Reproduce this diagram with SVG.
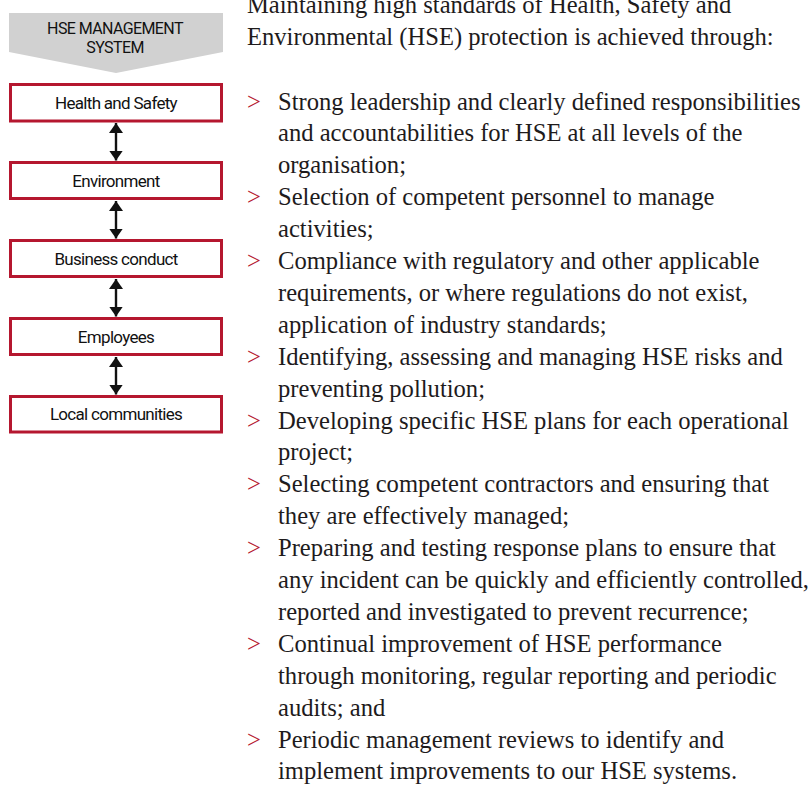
<svg xmlns="http://www.w3.org/2000/svg" width="812" height="785" viewBox="0 0 812 785">
<style>
.box{fill:#fff;stroke:#b5172f;stroke-width:3}
.bt{font-family:Roboto,"Liberation Sans",Arial,sans-serif;font-weight:400;font-size:17px;letter-spacing:-0.7px;fill:#111;text-anchor:middle}
.hd{font-family:Roboto,"Liberation Sans",Arial,sans-serif;font-weight:400;font-size:16px;letter-spacing:-0.6px;fill:#111;text-anchor:middle}
.con{stroke:#111;stroke-width:2.4;fill:none;marker-start:url(#ah);marker-end:url(#ah)}
.tx{font-family:"Liberation Serif","Times New Roman",serif;font-size:24.6px;fill:#1e1b1c}
.bl{fill:#b5172f}
</style>
<defs>
<marker id="ah" viewBox="0 0 10 14" refX="10" refY="7" markerWidth="10" markerHeight="14" orient="auto-start-reverse" markerUnits="userSpaceOnUse">
<path d="M0,0 L10,7 L0,14 z" fill="#111"/>
</marker>
</defs>
<rect width="812" height="785" fill="#fff"/>
<g id="header">
<polygon points="9,13 223,13 223,52 116,73 9,52" fill="#d1d1d1"/>
<text class="hd" x="115" y="33.5">HSE MANAGEMENT</text>
<text class="hd" x="115" y="53">SYSTEM</text>
</g>
<g id="connectors">
<line class="con" x1="116" y1="123" x2="116" y2="160.5"/>
<line class="con" x1="116" y1="201" x2="116" y2="238.5"/>
<line class="con" x1="116" y1="279" x2="116" y2="316.5"/>
<line class="con" x1="116" y1="357" x2="116" y2="394.5"/>
</g>
<g id="node-health-safety">
<rect class="box" x="10.5" y="84.5" width="211" height="36.5"/>
<text class="bt" x="116" y="108.5">Health and Safety</text>
</g>
<g id="node-environment">
<rect class="box" x="10.5" y="162.5" width="211" height="36"/>
<text class="bt" x="116" y="186.5">Environment</text>
</g>
<g id="node-business-conduct">
<rect class="box" x="10.5" y="240.5" width="211" height="36"/>
<text class="bt" x="116" y="264.5">Business conduct</text>
</g>
<g id="node-employees">
<rect class="box" x="10.5" y="318.5" width="211" height="36"/>
<text class="bt" x="116" y="342.5">Employees</text>
</g>
<g id="node-local-communities">
<rect class="box" x="10.5" y="396.5" width="211" height="35.5"/>
<text class="bt" x="116" y="420">Local communities</text>
</g>
<g id="text">
<text class="tx" x="247" y="13">Maintaining high standards of  Health, Safety and</text>
<text class="tx" x="247" y="44.5">Environmental (HSE) protection is achieved through:</text>
<g class="bl">
<text class="tx bl" x="247" y="109.5">&gt;</text>
<text class="tx bl" x="247" y="205.2">&gt;</text>
<text class="tx bl" x="247" y="269">&gt;</text>
<text class="tx bl" x="247" y="364.7">&gt;</text>
<text class="tx bl" x="247" y="428.5">&gt;</text>
<text class="tx bl" x="247" y="492.3">&gt;</text>
<text class="tx bl" x="247" y="556.1">&gt;</text>
<text class="tx bl" x="247" y="651.8">&gt;</text>
<text class="tx bl" x="247" y="747.5">&gt;</text>
</g>
<text class="tx" x="278" y="109.5">Strong leadership and clearly defined responsibilities</text>
<text class="tx" x="278" y="141.4">and accountabilities for HSE at all levels of  the</text>
<text class="tx" x="278" y="173.3">organisation;</text>
<text class="tx" x="278" y="205.2">Selection of  competent personnel to manage</text>
<text class="tx" x="278" y="237.1">activities;</text>
<text class="tx" x="278" y="269">Compliance with regulatory and other applicable</text>
<text class="tx" x="278" y="300.9">requirements, or where regulations do not exist,</text>
<text class="tx" x="278" y="332.8">application of industry standards;</text>
<text class="tx" x="278" y="364.7">Identifying, assessing and managing HSE risks and</text>
<text class="tx" x="278" y="396.6">preventing pollution;</text>
<text class="tx" x="278" y="428.5">Developing specific HSE plans for each operational</text>
<text class="tx" x="278" y="460.4">project;</text>
<text class="tx" x="278" y="492.3">Selecting competent contractors and ensuring that</text>
<text class="tx" x="278" y="524.2">they are effectively managed;</text>
<text class="tx" x="278" y="556.1">Preparing and testing response plans to ensure that</text>
<text class="tx" x="278" y="588">any incident can be quickly and efficiently controlled,</text>
<text class="tx" x="278" y="619.9">reported and investigated to prevent recurrence;</text>
<text class="tx" x="278" y="651.8">Continual improvement of  HSE performance</text>
<text class="tx" x="278" y="683.7">through monitoring, regular reporting and periodic</text>
<text class="tx" x="278" y="715.6">audits; and</text>
<text class="tx" x="278" y="747.5">Periodic management reviews to identify and</text>
<text class="tx" x="278" y="779.4">implement improvements to our HSE systems.</text>
</g>
</svg>
